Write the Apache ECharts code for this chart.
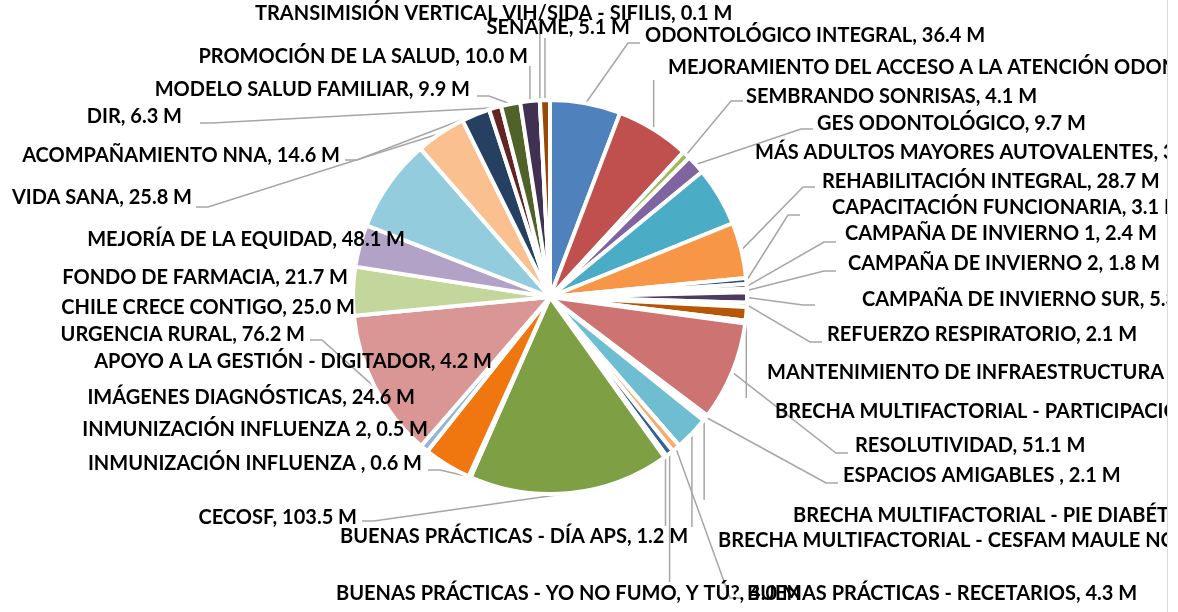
<!DOCTYPE html>
<html>
<head>
<meta charset="utf-8">
<script src="https://cdn.jsdelivr.net/npm/echarts@6/dist/echarts.min.js"></script>
<style>
  html, body { margin: 0; padding: 0; background: #fff; }
  #wrap { width: 1178px; height: 612px; position: relative; background: #fff; }
  #chart { position: absolute; left: 0; top: 0; width: 1167px; height: 612px; overflow: hidden; border-right: 1px solid #D9D9D9; }
</style>
</head>
<body>
<div id="wrap"><div id="chart"></div></div>
<script>
// ---- data ----
const categories = [
  'ODONTOLÓGICO INTEGRAL',
  'MEJORAMIENTO DEL ACCESO A LA ATENCIÓN ODONTOLÓGICA',
  'SEMBRANDO SONRISAS',
  'GES ODONTOLÓGICO',
  'MÁS ADULTOS MAYORES AUTOVALENTES',
  'REHABILITACIÓN INTEGRAL',
  'CAPACITACIÓN FUNCIONARIA',
  'CAMPAÑA DE INVIERNO 1',
  'CAMPAÑA DE INVIERNO 2',
  'CAMPAÑA DE INVIERNO SUR',
  'REFUERZO RESPIRATORIO',
  'MANTENIMIENTO DE INFRAESTRUCTURA (APS)',
  'BRECHA MULTIFACTORIAL - PARTICIPACIÓN',
  'RESOLUTIVIDAD',
  'ESPACIOS AMIGABLES ',
  'BRECHA MULTIFACTORIAL - PIE DIABÉTICO',
  'BRECHA MULTIFACTORIAL - CESFAM MAULE NORTE',
  'BUENAS PRÁCTICAS - RECETARIOS',
  'BUENAS PRÁCTICAS - YO NO FUMO, Y TÚ?',
  'BUENAS PRÁCTICAS - DÍA APS',
  'CECOSF',
  'INMUNIZACIÓN INFLUENZA ',
  'INMUNIZACIÓN INFLUENZA 2',
  'IMÁGENES DIAGNÓSTICAS',
  'APOYO A LA GESTIÓN - DIGITADOR',
  'URGENCIA RURAL',
  'CHILE CRECE CONTIGO',
  'FONDO DE FARMACIA',
  'MEJORÍA DE LA EQUIDAD',
  'VIDA SANA',
  'ACOMPAÑAMIENTO NNA',
  'DIR',
  'MODELO SALUD FAMILIAR',
  'PROMOCIÓN DE LA SALUD',
  'TRANSIMISIÓN VERTICAL VIH/SIDA - SIFILIS',
  'SENAME'
];
const valuesM = [
  36.4, 38.0, 4.1, 9.7, 30.5, 28.7,
  3.1, 2.4, 1.8, 5.3, 2.1, 7.0,
  1.5, 51.1, 2.1, 1.0, 17.8, 4.3,
  4.0, 1.2, 103.5, 0.6, 0.5, 24.6,
  4.2, 76.2, 25.0, 21.7, 48.1, 25.8,
  14.6, 6.3, 9.9, 10.0, 0.1, 5.1
];
const unitSuffix = ' M';

// ---- styles ----
const sliceColors = [
  '#4F81BD', '#C0504D', '#9BBB59', '#8064A2', '#4BACC6', '#F79646',
  '#2C4D75', '#772C2A', '#5F7530', '#4D3B62', '#276A7C', '#B65708',
  '#729ACA', '#CD7371', '#AFC97A', '#9983B5', '#6FBDD1', '#F9AB6B',
  '#376092', '#953735', '#7F9F45', '#604A7B', '#31859C', '#F0760F',
  '#95B3D7', '#D99694', '#C3D69B', '#B3A2C7', '#93CDDD', '#FAC090',
  '#254061', '#632523', '#4F6228', '#403152', '#215968', '#984807'
];
// label placement: [x, y, align, lineType, endX, endY]
// lineType 0: no leader line, 1: line + horizontal stub, 3: vertical line from slice
const labelPlace = [
  [645, 36, 'left', 1, 640, 43],
  [668, 68, 'left', 3, 0, 80],
  [746, 97, 'left', 1, 743, 101],
  [817, 124, 'left', 1, 813, 129],
  [755, 153, 'left', 0],
  [822, 182, 'left', 1, 815, 187],
  [832, 208, 'left', 1, 800, 215],
  [845, 234, 'left', 1, 836, 242],
  [848, 264, 'left', 1, 836, 271],
  [862, 300, 'left', 1, 815, 305],
  [827, 335, 'left', 1, 822, 342],
  [767, 373, 'left', 3, 0, 398],
  [775, 412, 'left', 0],
  [855, 446, 'left', 1, 848, 453],
  [843, 476, 'left', 1, 838, 483],
  [793, 516, 'left', 3, 0, 500],
  [718, 541, 'left', 3, 0, 527],
  [747, 594, 'left', 1, 742, 598],
  [336, 594, 'left', 3, 0, 582],
  [340, 537, 'left', 3, 0, 526],
  [357, 518, 'right', 1, 362, 521],
  [422, 464, 'right', 1, 428, 470],
  [428, 430, 'right', 0],
  [415, 398, 'right', 0],
  [492, 362, 'right', 0],
  [305, 335, 'right', 1, 310, 340],
  [355, 308, 'right', 0],
  [348, 278, 'right', 0],
  [405, 240, 'right', 0],
  [192, 198, 'right', 1, 196, 207],
  [340, 156, 'right', 1, 345, 160],
  [182, 117, 'right', 1, 200, 123],
  [470, 90, 'right', 1, 477, 96],
  [528, 57, 'right', 3, 0, 66],
  [255, 14, 'left', 3, 0, 22],
  [630, 28, 'right', 3, 0, 38]
];

const chart = echarts.init(document.getElementById('chart'), null, { renderer: 'canvas' });

const seriesData = categories.map((name, i) => ({
  name: name,
  value: valuesM[i],
  itemStyle: { color: sliceColors[i] },
  labelLine: { show: labelPlace[i][3] !== 0 }
}));

chart.setOption({
  animation: false,
  backgroundColor: '#ffffff',
  series: [{
    type: 'pie',
    center: [550, 297],
    radius: 197,
    startAngle: 90,
    clockwise: true,
    avoidLabelOverlap: false,
    data: seriesData,
    itemStyle: { borderColor: '#ffffff', borderWidth: 4 },
    label: {
      show: true,
      position: 'outside',
      overflow: 'none',
      color: '#000000',
      fontFamily: 'Lato',
      fontWeight: 'bold',
      fontSize: 20,
      formatter: p => p.name + ', ' + p.value.toFixed(1) + unitSuffix
    },
    labelLine: {
      show: true,
      length: 10,
      length2: 10,
      lineStyle: { color: '#A6A6A6', width: 1.5 }
    },
    labelLayout: function (params) {
      const lp = labelPlace[params.dataIndex];
      const out = { x: lp[0], y: lp[1], align: lp[2], verticalAlign: 'middle' };
      const pts = params.labelLinePoints;
      if (pts && lp[3] !== 0) {
        const p0 = pts[0];
        if (lp[3] === 1) {
          const dir = lp[2] === 'left' ? -1 : 1;
          out.labelLinePoints = [p0, [lp[4] + dir * 12, lp[5]], [lp[4], lp[5]]];
        } else {
          out.labelLinePoints = [p0, [p0[0], (p0[1] + lp[5]) / 2], [p0[0], lp[5]]];
        }
      }
      return out;
    }
  }]
});
</script>
</body>
</html>
